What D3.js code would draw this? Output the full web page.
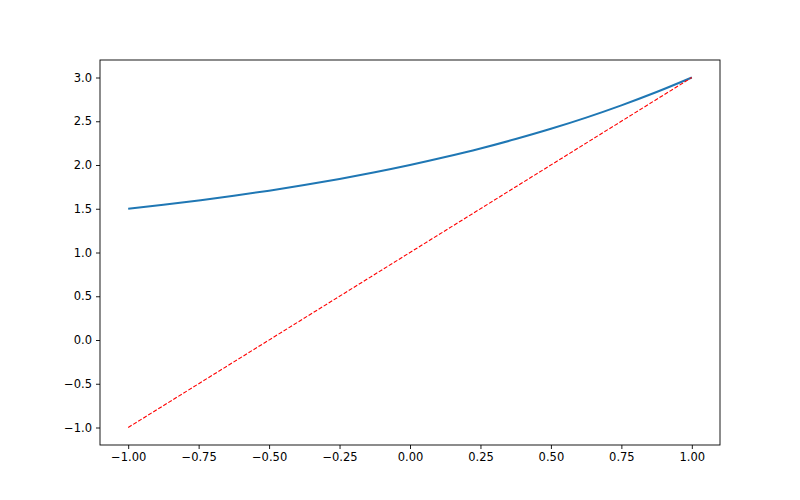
<!DOCTYPE html>
<html>
<head>
<meta charset="utf-8">
<script src="https://cdn.jsdelivr.net/npm/d3@7"></script>
<style>
  body { margin: 0; background: #fff; }
  svg text { font-family: "DejaVu Sans", sans-serif; fill: #000; }
</style>
</head>
<body>
<svg id="chart" width="800" height="500"></svg>
<script>
// curve values
const curveX = [-1, -0.875, -0.75, -0.625, -0.5, -0.375, -0.25, -0.125, 0, 0.125, 0.25, 0.375, 0.5, 0.625, 0.75, 0.875, 1]
const curveY = [1.5, 1.545, 1.595, 1.648, 1.707, 1.771, 1.841, 1.917, 2.0, 2.091, 2.189, 2.297, 2.414, 2.542, 2.682, 2.834, 3.0]

// straight dashed line end points
const lineX = [-1, 1]
const lineY = [-1, 3]

const xTicks = [-1.0, -0.75, -0.5, -0.25, 0, 0.25, 0.5, 0.75, 1.0]
const yTicks = [-1.0, -0.5, 0, 0.5, 1.0, 1.5, 2.0, 2.5, 3.0]

const WIDTH = 800
const HEIGHT = 500
const margin = { top: 60, right: 80, bottom: 55, left: 100 }
const FONT_SIZE = 11.5

const svg = d3.select('#chart')

const x = d3.scaleLinear()
  .domain([-1.1, 1.1])
  .range([margin.left, WIDTH - margin.right])

const y = d3.scaleLinear()
  .domain([-1.2, 3.2])
  .range([HEIGHT - margin.bottom, margin.top])

const plot = svg.append('g')

const line = d3.line()
  .x(d => x(d[0]))
  .y(d => y(d[1]))

plot.append('path')
  .datum(curveX.map((v, i) => [v, curveY[i]]))
  .attr('fill', 'none')
  .attr('stroke', '#1f77b4')
  .attr('stroke-width', 2)
  .attr('d', line.curve(d3.curveMonotoneX))

plot.append('path')
  .datum(lineX.map((v, i) => [v, lineY[i]]))
  .attr('fill', 'none')
  .attr('stroke', '#ff0000')
  .attr('stroke-width', 1.1)
  .attr('stroke-dasharray', '4.1,1.8')
  .attr('d', line.curve(d3.curveLinear))

// axes
const xAxis = svg.append('g')
  .attr('transform', `translate(0,${HEIGHT - margin.bottom})`)
  .call(d3.axisBottom(x).tickValues(xTicks).tickSize(4).tickPadding(4)
    .tickFormat(d => d.toFixed(2).replace('-', '\u2212')))

const yAxis = svg.append('g')
  .attr('transform', `translate(${margin.left},0)`)
  .call(d3.axisLeft(y).tickValues(yTicks).tickSize(4).tickPadding(4)
    .tickFormat(d => d.toFixed(1).replace('-', '\u2212')))

;[xAxis, yAxis].forEach(a => {
  a.select('.domain').remove()
  a.selectAll('line').attr('stroke', '#000').attr('stroke-width', 0.9)
  a.selectAll('text').attr('font-family', '"DejaVu Sans", sans-serif').attr('font-size', FONT_SIZE)
})

// frame
svg.append('rect')
  .attr('x', margin.left)
  .attr('y', margin.top)
  .attr('width', WIDTH - margin.left - margin.right)
  .attr('height', HEIGHT - margin.top - margin.bottom)
  .attr('fill', 'none')
  .attr('stroke', '#000')
  .attr('stroke-width', 0.9)
</script>
</body>
</html>
